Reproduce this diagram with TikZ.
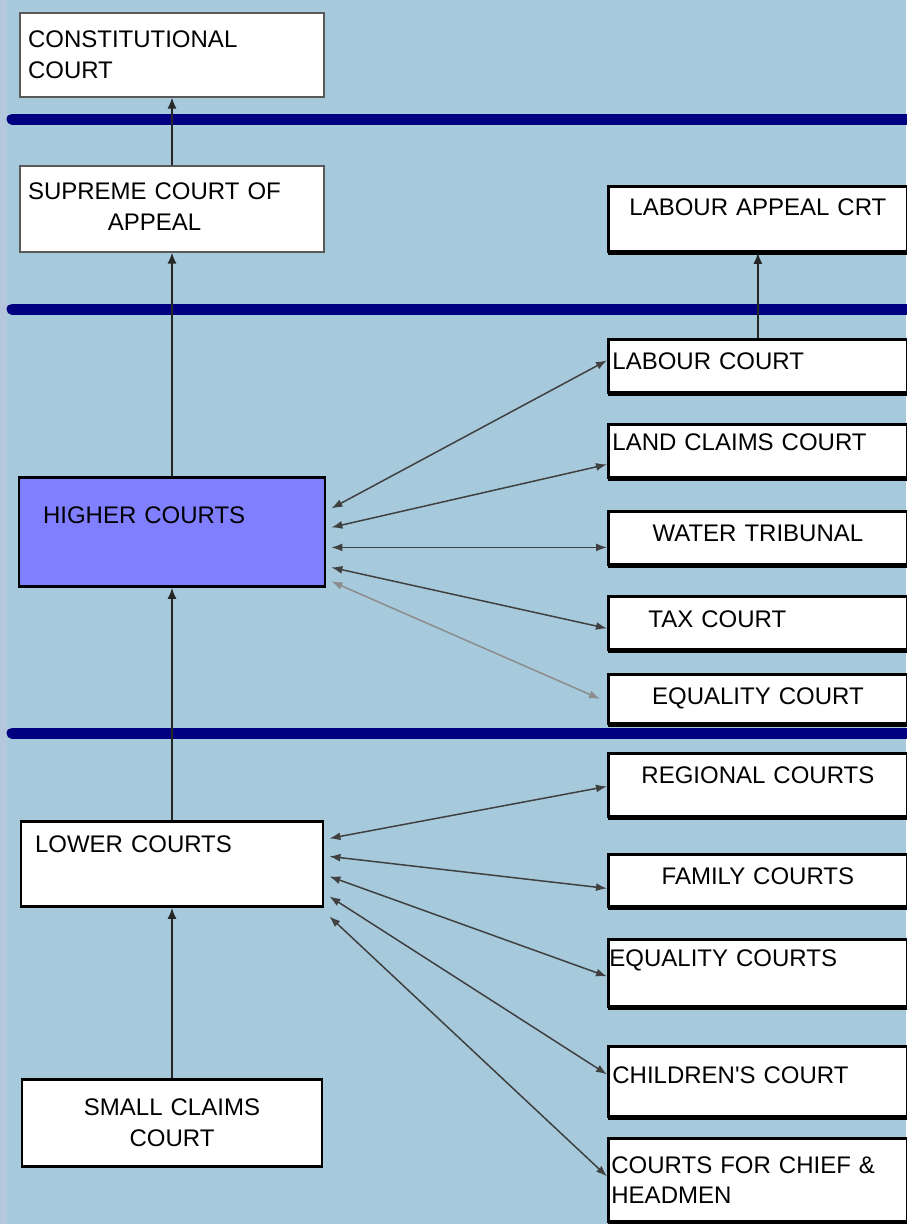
\documentclass[tikz,border=0pt]{standalone}
\usepackage{fontspec}
\setmainfont{Liberation Sans}
\usetikzlibrary{arrows.meta}
\usetikzlibrary{shadows}
\definecolor{sky}{HTML}{A6CADC}
\definecolor{rim}{HTML}{B4C7DC}
\definecolor{navyband}{HTML}{000080}
\definecolor{highblue}{HTML}{7F7FFF}

\begin{document}
\begin{tikzpicture}[x=1pt,y=-1pt,
  courtbox/.style={draw,fill=white,inner sep=0pt,font=\fontsize{24}{30.5}\selectfont},
  lowshadow/.style={drop shadow={shadow xshift=0pt,shadow yshift=-#1,fill=black,opacity=1}},
  rcourt/.style={courtbox,line width=2.8pt,anchor=north west,minimum width=299pt,lowshadow=4pt},
  lcourt/.style={courtbox,line width=2.8pt,anchor=north,lowshadow=2pt},
  upcourt/.style={courtbox,draw=black!65,line width=1.5pt,anchor=north,minimum width=304pt},
  oneline/.style={text height=17pt,text depth=#1pt},
  link/.style={{Latex[length=11pt,width=8pt]}-{Latex[length=11pt,width=8pt]},line width=1.5pt,draw=black!75},
  rise/.style={-{Latex[length=11pt,width=9pt]},line width=1.8pt,draw=black!85},
  divider/.style={line width=11pt,draw=navyband,line cap=round}]
  \fill[sky] (0,0) rectangle (906,1224);
  \fill[rim] (0,0) rectangle (7,1224);
  \useasboundingbox (0,0) rectangle (906,1224);
  % level bars
  \draw[divider] (12,119) -- (906,119);
  \draw[divider] (12,309) -- (906,309);
  \draw[divider] (12,733) -- (906,733);
  % left column
  \node[upcourt,minimum height=84pt,text width=288pt,align=left](constitutional) at (172,12) {CONSTITUTIONAL\\COURT};
  \node[upcourt,minimum height=86pt,text width=288pt,align=left](supreme) at (172,165)
    {\begin{tabular}{@{}c@{}}SUPREME COURT OF\\APPEAL\end{tabular}};
  \node[lcourt,fill=highblue,minimum width=306pt,minimum height=109pt,oneline=33,text width=258pt,align=left](higher) at (172,476) {HIGHER COURTS};
  \node[lcourt,minimum width=302pt,minimum height=85pt,oneline=39,text width=274pt,align=left](lower) at (172,820) {LOWER COURTS};
  \node[lcourt,minimum width=300pt,minimum height=87pt,text width=280pt,align=center](smallclaims) at (172,1078) {SMALL CLAIMS\\COURT};
  % right column
  \node[rcourt,minimum height=65pt,oneline=23,text width=285pt,align=center](appeal) at (607,185) {LABOUR APPEAL CRT};
  \node[rcourt,minimum height=53pt,oneline=10,text width=291pt,align=left](labour) at (607,338) {LABOUR COURT};
  \node[rcourt,minimum height=53pt,oneline=18,text width=291pt,align=left](landclaims) at (607,423) {LAND CLAIMS COURT};
  \node[rcourt,minimum height=53pt,oneline=10,text width=291pt,align=center](water) at (607,510) {WATER TRIBUNAL};
  \node[rcourt,minimum height=53pt,oneline=7,text width=219pt,align=left](tax) at (607,595) {TAX COURT};
  \node[rcourt,minimum height=49pt,oneline=5,text width=291pt,align=center](equality) at (607,673) {EQUALITY COURT};
  \node[rcourt,minimum height=63pt,oneline=19,text width=291pt,align=center](regional) at (607,752) {REGIONAL COURTS};
  \node[rcourt,minimum height=52pt,oneline=8,text width=291pt,align=center](family) at (607,853) {FAMILY COURTS};
  \node[rcourt,minimum height=67pt,oneline=29,text width=297pt,align=left](equalities) at (607,938) {EQUALITY COURTS};
  \node[rcourt,minimum height=70pt,oneline=12,text width=291pt,align=left](children) at (607,1045) {CHILDREN\textquotesingle S COURT};
  \node[rcourt,minimum height=83pt,text width=293pt,align=left](chiefs) at (607,1137) {COURTS FOR CHIEF \&\\HEADMEN};
  % appeals upwards
  \draw[rise] (supreme.north)--(constitutional.south);
  \draw[rise] (higher.north)--(supreme.south);
  \draw[rise] (lower.north)--(higher.south);
  \draw[rise] (smallclaims.north)--(lower.south);
  \draw[rise] (labour.north)--(appeal.south);
  % higher courts
  \draw[link] ([xshift=5pt,yshift=23.5pt]higher.east)--([yshift=5.5pt]labour.west);
  \draw[link] ([xshift=5pt,yshift=4.5pt]higher.east)--([yshift=-13.5pt]landclaims.west);
  \draw[link] ([xshift=5pt,yshift=-15.5pt]higher.east)--([yshift=-9.5pt]water.west);
  \draw[link] ([xshift=5pt,yshift=-35.5pt]higher.east)--([yshift=-5.5pt]tax.west);
  \draw[link,draw=black!45] ([xshift=5pt,yshift=-49.5pt]higher.east)--([xshift=-7pt]equality.west);
  % lower courts
  \draw[link] ([xshift=5pt,yshift=25.5pt]lower.east)--([yshift=-1.5pt]regional.west);
  \draw[link] ([xshift=5pt,yshift=7.5pt]lower.east)--([yshift=-8pt]family.west);
  \draw[link] ([xshift=5pt,yshift=-12.5pt]lower.east)--([yshift=-3.5pt]equalities.west);
  \draw[link] ([xshift=5pt,yshift=-32.5pt]lower.east)--([yshift=7pt]children.west);
  \draw[link] ([xshift=5pt,yshift=-52.5pt]lower.east)--([yshift=3.5pt]chiefs.west);
\end{tikzpicture}
\end{document}
